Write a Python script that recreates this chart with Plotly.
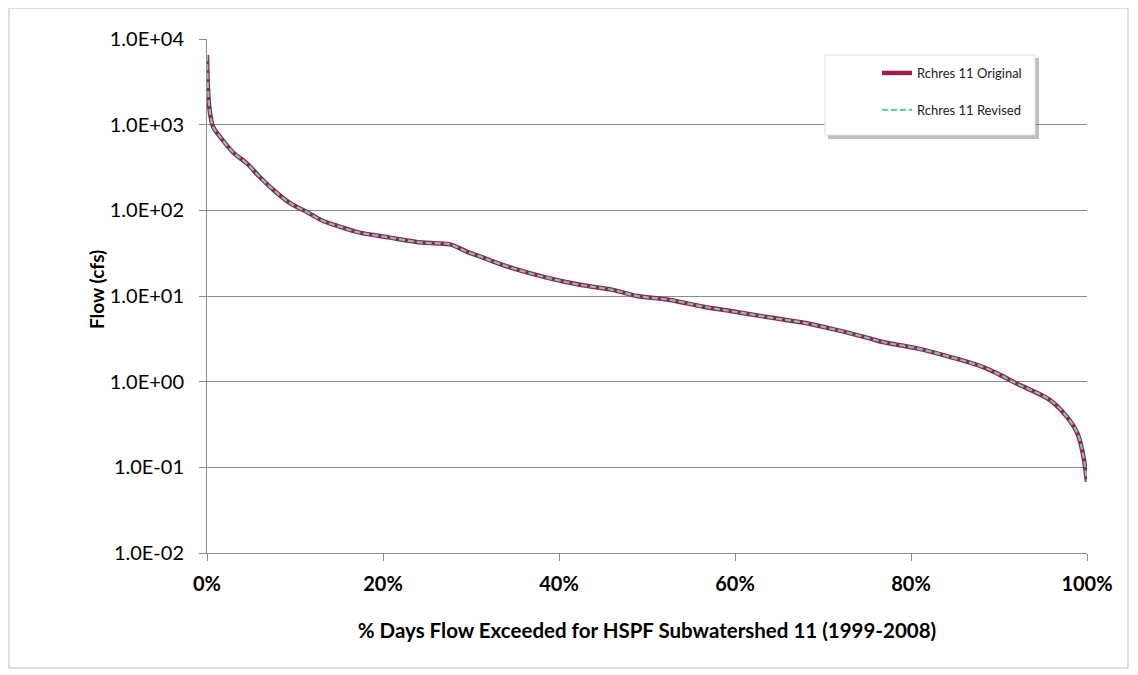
import plotly.graph_objects as go

# % of days flow exceeded
pct_exceeded = [0, 0.1, 0.3, 0.7, 1.5, 3, 4.5, 6, 7.5, 9.4, 11.4, 13.2, 15, 17, 20.8,
                24.5, 27.6, 29.5, 31, 32.2, 34.8, 38.6, 42.4, 46.1, 48.9, 52.6, 56.4,
                60.2, 64, 67.7, 71.6, 75.3, 76.8, 80.7, 84.4, 88.2, 90.1, 92, 95.8,
                97.7, 98.9, 99.5, 100]
# Flow (cfs), original and revised (overlapping)
flow_original = [6500, 2750, 1480, 940, 720, 470, 355, 245, 175, 122, 95, 75, 65, 56, 48,
                 42, 40, 33, 29, 26, 21, 16.4, 13.5, 11.8, 10, 9.0, 7.5,
                 6.5, 5.6, 4.9, 4.0, 3.2, 2.9, 2.45, 1.95, 1.48, 1.2, 0.95, 0.61,
                 0.39, 0.25, 0.15, 0.068]
flow_revised = list(flow_original)

series_names = ["Rchres 11 Original", "Rchres 11 Revised"]
y_tick_vals = [1e-2, 1e-1, 1e0, 1e1, 1e2, 1e3, 1e4]
y_tick_text = ["1.0E-02", "1.0E-01", "1.0E+00", "1.0E+01", "1.0E+02", "1.0E+03", "1.0E+04"]
x_tick_vals = [0, 20, 40, 60, 80, 100]
x_tick_text = ["0%", "20%", "40%", "60%", "80%", "100%"]

FONT = "Lato"

fig = go.Figure()
fig.add_trace(go.Scatter(
    x=pct_exceeded, y=flow_original, mode="lines", name=series_names[0],
    line=dict(color="#9E1F4C", width=4.5, shape="spline"), legendgroup="a"))
fig.add_trace(go.Scatter(
    x=pct_exceeded, y=flow_revised, mode="lines", name=series_names[1],
    line=dict(color="#62D2B4", width=2.2, dash="6px,3px", shape="spline"), legendgroup="b"))

OFF = 8  # page body margin offset
W, H = 1138 - OFF, 675 - OFF
# plot area in page coordinates
PL, PR, PT, PB = 207, 1087, 39, 553
L, R, T, B = PL - OFF, PR - OFF, PT - OFF, PB - OFF
pw, ph = R - L, B - T


def px(x_page):
    return (x_page - PL) / pw


def py(y_page):
    return (PB - y_page) / ph


shapes = [
    # outer chart border
    dict(type="rect", xref="paper", yref="paper", x0=px(9), x1=px(1128), y0=py(668), y1=py(8),
         line=dict(color="#BFBFBF", width=1), layer="below"),
    # legend shadow
    dict(type="rect", xref="paper", yref="paper", x0=px(828), x1=px(1039), y0=py(139), y1=py(58),
         line=dict(width=0), fillcolor="rgba(140,140,140,0.55)", layer="above"),
    # legend box
    dict(type="rect", xref="paper", yref="paper", x0=px(825), x1=px(1035), y0=py(135), y1=py(55),
         line=dict(color="#E0E0E0", width=1), fillcolor="white", layer="above"),
]

fig.update_layout(
    width=W, height=H,
    margin=dict(l=L, r=W - R, t=T, b=H - B),
    paper_bgcolor="white", plot_bgcolor="white",
    font=dict(family=FONT, color="#000000"),
    shapes=shapes,
    showlegend=True,
    legend=dict(x=px(877), y=py(58), xanchor="left", yanchor="top",
                bgcolor="rgba(0,0,0,0)", borderwidth=0,
                font=dict(family=FONT, size=13, color="#222"),
                tracegroupgap=17, traceorder="grouped"),
    annotations=[dict(text="<b>Flow (cfs)</b>", xref="paper", yref="paper",
                      x=px(96), y=py(290), xanchor="center", yanchor="middle",
                      textangle=-90, showarrow=False,
                      font=dict(family=FONT, size=19))],
)
fig.update_xaxes(
    range=[0, 100], tickvals=x_tick_vals, ticktext=x_tick_text,
    showgrid=False, zeroline=False, showline=True, linecolor="#8C8C8C", linewidth=1,
    ticks="outside", ticklen=7, tickcolor="#8C8C8C", ticklabelstandoff=6,
    tickfont=dict(family=FONT, size=20, weight="bold"),
    title=dict(text="<b>% Days Flow Exceeded for HSPF Subwatershed 11 (1999-2008)</b>",
               font=dict(family=FONT, size=20.5), standoff=29),
)
fig.update_yaxes(
    type="log", range=[-2, 4], tickvals=y_tick_vals, ticktext=y_tick_text,
    showgrid=True, gridcolor="#8C8C8C", gridwidth=1,
    zeroline=False, showline=True, linecolor="#8C8C8C", linewidth=1,
    ticks="outside", ticklen=7, tickcolor="#8C8C8C", ticklabelstandoff=11,
    tickfont=dict(family=FONT, size=20),
)

fig.write_html("out.html")
